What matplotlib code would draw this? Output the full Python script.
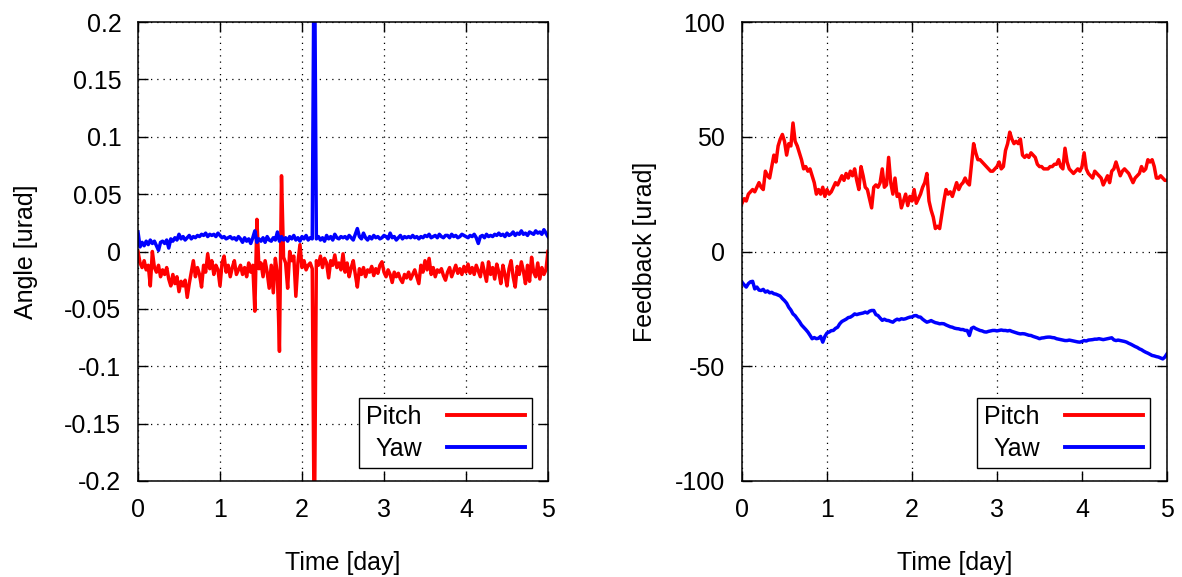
import numpy as np
import matplotlib as mpl
import matplotlib.pyplot as plt

mpl.rcParams.update({
    "font.family": "Liberation Sans",
    "font.size": 18,
    "axes.unicode_minus": False,
})

# time grid [day], one sample every 0.025 day
DT = 0.025
N = 201

# left panel: residual angle, in units of 1e-3 urad
PITCH_ANGLE_MILLI = [
    0, -10, -14, -8, -16, -12, -30, 0, -14, -18,
    -12, -22, -16, -20, -14, -24, -30, -20, -28, -22,
    -35, -26, -30, -25, -40, -28, -18, -8, -22, -14,
    -20, -31, -12, -18, -2, -15, -8, -20, -12, -16,
    -30, -10, -4, -18, -12, -22, -14, -8, -20, -16,
    -12, -20, -14, -22, -10, -18, -12, -52, 28, -15,
    -10, -22, -8, -18, -32, -12, -36, -6, -20, -87,
    66, -5, -10, -32, 0, -8, -4, -39, -10, 6,
    -14, -8, -16, -12, -10, -15, -260, -8, -12, -4,
    -14, -6, -10, -23, -8, -12, -3, -14, -10, -16,
    -2, -18, -10, -22, -14, -8, -20, -31, -15, -20,
    -14, -22, -16, -18, -13, -21, -15, -19, -12, -9,
    -18, -22, -16, -20, -27, -18, -22, -19, -24, -27,
    -20, -23, -18, -24, -20, -16, -22, -28, -12, -18,
    -8, -16, -6, -20, -14, -22, -16, -18, -15, -21,
    -25, -18, -14, -22, -17, -12, -19, -15, -20, -13,
    -18, -11, -19, -14, -20, -12, -17, -22, -10, -18,
    -26, -9, -20, -14, -24, -11, -18, -28, -12, -20,
    -30, -15, -8, -22, -31, -13, -20, -9, -17, -28,
    -12, -26, -5, -18, -22, -10, -24, -14, -20, -16,
    0,
]
YAW_ANGLE_MILLI = [
    17, 4, 8, 5, 9, 6, 10, 7, 9, 5,
    1, 8, 9, 7, 10, 3, 11, 9, 12, 10,
    15, 11, 13, 10, 12, 14, 11, 13, 12, 14,
    13, 15, 14, 16, 13, 15, 14, 15, 13, 16,
    14, 12, 13, 11, 12, 13, 11, 12, 10, 13,
    11, 8, 12, 9, 11, 7, 12, 18, 8, 11,
    9, 12, 8, 13, 10, 9, 12, 10, 17, 9,
    13, 10, 12, 9, 13, 11, 14, 10, 12, 9,
    13, 11, 14, 10, 12, 11, 300, 11, 13, 10,
    12, 9, 14, 11, 13, 10, 15, 12, 11, 13,
    12, 13, 11, 14, 12, 10, 15, 20, 13, 11,
    16, 12, 10, 13, 11, 14, 12, 13, 11, 12,
    14, 13, 11, 16, 12, 13, 10, 12, 14, 11,
    13, 12, 13, 12, 14, 12, 13, 11, 13, 12,
    14, 13, 15, 12, 13, 14, 12, 15, 13, 12,
    14, 14, 12, 15, 13, 14, 12, 13, 15, 14,
    13, 12, 14, 13, 15, 12, 7, 13, 14, 12,
    15, 13, 14, 13, 15, 14, 16, 14, 15, 13,
    16, 14, 15, 17, 14, 16, 15, 18, 15, 16,
    14, 17, 16, 15, 18, 16, 17, 15, 19, 16,
    13,
]

# right panel: feedback signal [urad]
PITCH_FB = [
    21, 23, 22, 25, 26, 27, 26, 28, 30, 28,
    27, 35, 33, 32, 37, 42, 39, 46, 49, 51,
    48, 42, 47, 46, 56, 48, 46, 43, 40, 36,
    37, 35, 36, 33, 30, 25, 27, 25, 28, 24,
    27, 25, 26, 28, 30, 29, 31, 33, 31, 34,
    32, 35, 33, 36, 31, 27, 37, 33, 28, 27,
    23, 19, 28, 29, 28, 30, 36, 28, 29, 41,
    30, 25, 32, 24, 25, 19, 22, 25, 20, 24,
    22, 27, 21, 23, 25, 28, 30, 34, 22, 18,
    15, 10, 11, 10, 16, 22, 27, 25, 26, 24,
    27, 30, 27, 29, 30, 32, 30, 29, 38, 47,
    43, 40, 40, 39, 38, 37, 36, 35, 35, 36,
    37, 39, 36, 37, 44, 47, 52, 49, 47, 48,
    47, 49, 42, 41, 42, 41, 43, 42, 41, 38,
    37, 37, 36, 36, 36, 37, 37, 38, 38, 40,
    37, 36, 45, 39, 36, 35, 34, 35, 36, 35,
    37, 43, 36, 34, 33, 32, 35, 34, 33, 32,
    29, 31, 33, 30, 35, 36, 39, 36, 33, 35,
    36, 35, 34, 32, 30, 32, 33, 34, 37, 35,
    36, 40, 39, 40, 37, 32, 32, 33, 32, 31,
    31,
]
YAW_FB = [
    -13.4, -14.5, -15.5, -14.0, -13.2, -13.0, -16.3, -15.5, -16.8, -17.0,
    -16.5, -17.7, -17.2, -18.0, -17.8, -18.4, -18.6, -19.0, -19.4, -20.5,
    -21.4, -22.5, -24.3, -25.5, -27.2, -28.0, -29.3, -30.5, -32.0, -33.0,
    -34.0, -35.1, -36.5, -38.0, -37.5, -38.0, -37.8, -37.0, -39.5, -37.0,
    -35.5, -35.1, -34.5, -34.4, -33.5, -33.0, -31.5, -30.5, -30.0, -29.5,
    -28.8, -28.6, -28.0, -27.2, -27.5, -27.2, -27.0, -26.8, -26.4, -26.8,
    -26.0, -25.7, -25.7, -27.5, -27.9, -29.0, -30.0, -29.5, -30.0, -30.1,
    -30.5, -30.8, -30.0, -29.5, -29.8, -29.3, -29.5, -29.3, -28.9, -28.6,
    -28.5, -28.0, -27.9, -28.5, -28.6, -29.5, -30.2, -30.8, -30.5, -30.1,
    -30.6, -31.0, -31.2, -31.5, -31.4, -31.5, -32.0, -32.4, -32.8, -33.0,
    -33.4, -33.6, -33.7, -34.0, -34.0, -34.4, -34.4, -36.6, -33.5, -33.0,
    -33.6, -34.0, -34.4, -34.6, -35.0, -35.1, -34.8, -34.6, -34.4, -34.4,
    -34.6, -34.4, -34.2, -34.4, -34.4, -34.6, -34.4, -34.8, -35.1, -35.4,
    -35.7, -35.9, -35.8, -35.9, -36.2, -36.5, -36.6, -37.0, -37.3, -37.6,
    -38.0, -37.7, -37.6, -37.4, -37.3, -37.3, -37.5, -37.6, -38.0, -38.2,
    -38.4, -38.6, -38.8, -38.8, -38.6, -38.8, -39.0, -39.2, -39.4, -39.5,
    -39.2, -38.8, -39.0, -38.6, -38.5, -38.4, -38.2, -38.2, -38.0, -38.2,
    -38.4, -38.2, -38.0, -37.8, -37.6, -38.5, -38.8, -38.6, -38.8, -39.0,
    -39.2, -39.5, -40.0, -40.4, -40.9, -41.4, -41.8, -42.4, -42.8, -43.4,
    -43.9, -44.3, -44.8, -45.3, -45.5, -45.8, -46.0, -46.4, -46.8, -46.0,
    -44.6,
]

X_TICKS = [0, 1, 2, 3, 4, 5]
ANGLE_TICKS = [-0.2, -0.15, -0.1, -0.05, 0, 0.05, 0.1, 0.15, 0.2]
ANGLE_LABELS = ["-0.2", "-0.15", "-0.1", "-0.05", "0", "0.05", "0.1", "0.15", "0.2"]
FB_TICKS = [-100, -50, 0, 50, 100]

t = np.arange(N) * DT
pitch_ang = np.array(PITCH_ANGLE_MILLI) * 1e-3
yaw_ang = np.array(YAW_ANGLE_MILLI) * 1e-3

fig = plt.figure(figsize=(11.82, 5.77), dpi=100)
ax1 = fig.add_axes([138 / 1182, 96 / 577, 410 / 1182, 459 / 577])
ax2 = fig.add_axes([742 / 1182, 96 / 577, 425 / 1182, 459 / 577])


def style(ax):
    ax.set_xlim(0, 5)
    ax.set_xticks(X_TICKS)
    ax.tick_params(direction="in", length=7, width=1, top=True, right=True,
                   pad=12, labelsize=18)
    ax.grid(True, color="black", linestyle=(0, (1, 4)), linewidth=0.9)
    ax.set_axisbelow(True)
    for s in ax.spines.values():
        s.set_linewidth(1.1)
    ax.set_xlabel("Time [day]", fontsize=18)
    ax.xaxis.set_label_coords(0.5, -0.152)


style(ax1)
ax1.plot(t, pitch_ang, color="#ff0000", lw=2.5, label="Pitch")
ax1.plot(t, yaw_ang, color="#0000ff", lw=2.5, label="Yaw")
ax1.set_ylim(-0.2, 0.2)
ax1.set_yticks(ANGLE_TICKS)
ax1.set_yticklabels(ANGLE_LABELS)
ax1.set_ylabel("Angle [urad]", fontsize=18)
ax1.yaxis.set_label_coords(-0.243, 0.5)

style(ax2)
ax2.plot(t, PITCH_FB, color="#ff0000", lw=2.5, label="Pitch")
ax2.plot(t, YAW_FB, color="#0000ff", lw=2.5, label="Yaw")
ax2.set_ylim(-100, 100)
ax2.set_yticks(FB_TICKS)
ax2.set_ylabel("Feedback [urad]", fontsize=18)
ax2.yaxis.set_label_coords(-0.2, 0.5)

for ax, bx in ((ax1, (532 - 138) / 410), (ax2, (1150 - 742) / 425)):
    leg = ax.legend(loc="lower right", bbox_to_anchor=(bx, 13 / 459),
                    borderaxespad=0, markerfirst=False, fancybox=False,
                    edgecolor="black", framealpha=1, fontsize=18,
                    handlelength=3.1, handletextpad=1.0, labelspacing=0.3,
                    borderpad=0.3)
    leg.get_frame().set_linewidth(1.0)
    for ln in leg.get_lines():
        ln.set_linewidth(2.8)

fig.savefig("out.png", dpi=100)
